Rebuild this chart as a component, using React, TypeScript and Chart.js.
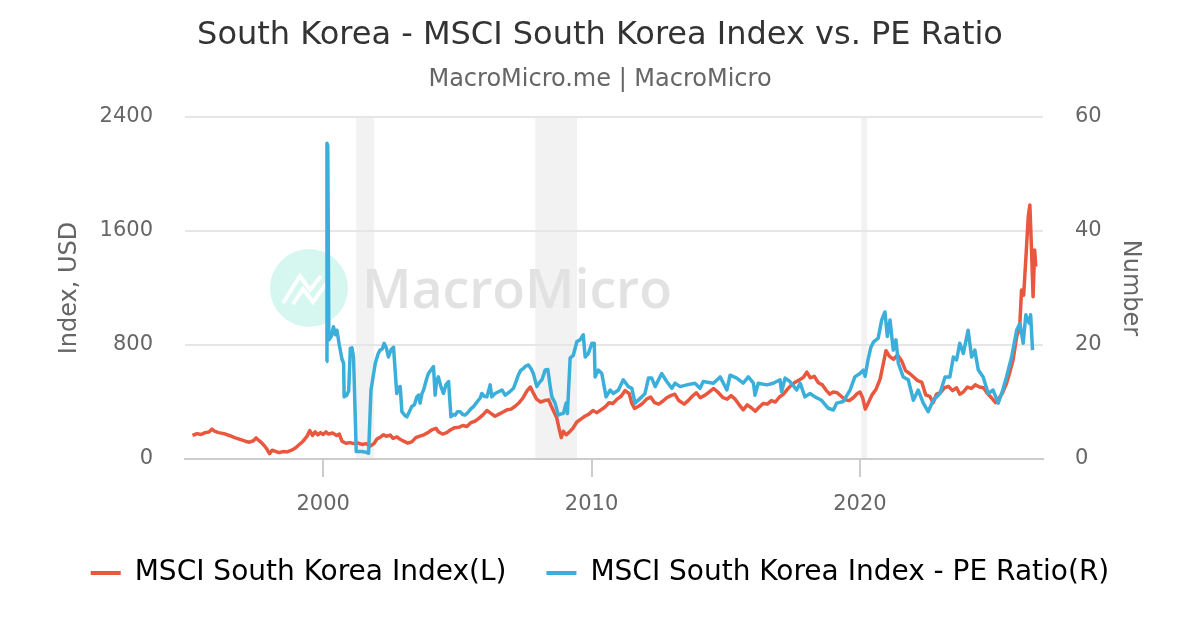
import React, { useEffect, useRef } from "react";
import { Chart, registerables } from "chart.js";

Chart.register(...registerables);

const titleText = "South Korea - MSCI South Korea Index vs. PE Ratio";
const subtitleText = "MacroMicro.me | MacroMicro";
const indexLabel = "MSCI South Korea Index(L)";
const peLabel = "MSCI South Korea Index - PE Ratio(R)";
const leftAxisTitle = "Index, USD";
const rightAxisTitle = "Number";
const watermarkText = "MacroMicro";

const xTickYears = [2000, 2010, 2020];
const leftTicks = [0, 800, 1600, 2400];
const rightTicks = [0, 20, 40, 60];

const recessionStarts = [2001.23, 2007.9, 2020.05];
const recessionEnds = [2001.9, 2009.46, 2020.27];

const indexYears = [
  1995.13, 1995.3, 1995.45, 1995.6, 1995.75, 1995.85, 1995.95, 1996.1, 1996.3, 1996.5,
  1996.7, 1996.9, 1997.1, 1997.25, 1997.4, 1997.5, 1997.6, 1997.7, 1997.8, 1997.9,
  1998.0, 1998.1, 1998.2, 1998.35, 1998.5, 1998.65, 1998.8, 1998.95, 1999.1, 1999.25,
  1999.4, 1999.5, 1999.6, 1999.7, 1999.8, 1999.9, 2000.0, 2000.1, 2000.2, 2000.35,
  2000.5, 2000.6, 2000.7, 2000.85, 2001.0, 2001.15, 2001.3, 2001.45, 2001.6, 2001.75,
  2001.9, 2002.0, 2002.1, 2002.25, 2002.35, 2002.5, 2002.6, 2002.75, 2002.85, 2003.0,
  2003.15, 2003.3, 2003.45, 2003.6, 2003.75, 2003.9, 2004.05, 2004.2, 2004.3, 2004.45,
  2004.6, 2004.75, 2004.9, 2005.05, 2005.2, 2005.35, 2005.5, 2005.65, 2005.8, 2005.95,
  2006.1, 2006.25, 2006.4, 2006.55, 2006.7, 2006.85, 2007.0, 2007.15, 2007.3, 2007.45,
  2007.6, 2007.72, 2007.85, 2007.95, 2008.1, 2008.25, 2008.4, 2008.5, 2008.6, 2008.7,
  2008.8, 2008.87, 2008.95, 2009.05, 2009.15, 2009.3, 2009.45, 2009.6, 2009.75, 2009.9,
  2010.05, 2010.2, 2010.35, 2010.5, 2010.65, 2010.8, 2010.95, 2011.1, 2011.25, 2011.4,
  2011.5, 2011.6, 2011.75, 2011.9, 2012.05, 2012.2, 2012.35, 2012.5, 2012.65, 2012.8,
  2012.95, 2013.1, 2013.25, 2013.45, 2013.6, 2013.75, 2013.9, 2014.05, 2014.2, 2014.35,
  2014.55, 2014.7, 2014.9, 2015.05, 2015.2, 2015.35, 2015.5, 2015.65, 2015.8, 2015.95,
  2016.1, 2016.25, 2016.4, 2016.55, 2016.7, 2016.85, 2017.0, 2017.15, 2017.3, 2017.45,
  2017.6, 2017.75, 2017.9, 2018.02, 2018.15, 2018.3, 2018.45, 2018.6, 2018.75, 2018.88,
  2019.0, 2019.15, 2019.3, 2019.45, 2019.6, 2019.75, 2019.9, 2020.0, 2020.1, 2020.2,
  2020.3, 2020.45, 2020.6, 2020.75, 2020.87, 2020.97, 2021.1, 2021.25, 2021.4, 2021.55,
  2021.7, 2021.85, 2022.0, 2022.15, 2022.3, 2022.45, 2022.6, 2022.73, 2022.85, 2023.0,
  2023.15, 2023.3, 2023.45, 2023.6, 2023.72, 2023.85, 2024.0, 2024.15, 2024.3, 2024.45,
  2024.6, 2024.75, 2024.9, 2025.05, 2025.15, 2025.3, 2025.46, 2025.6, 2025.71, 2025.84,
  2025.95, 2026.02, 2026.1, 2026.2, 2026.27, 2026.33, 2026.39, 2026.45, 2026.51, 2026.55,
];

const indexValues = [
  165, 178, 172, 185, 190, 210, 195, 185, 178, 165,
  150, 138, 125, 118, 128, 148, 130, 115, 95, 70,
  38, 62, 55, 45, 52, 50, 60, 75, 100, 125,
  160, 200, 165, 190, 170, 185, 172, 190, 175, 182,
  165, 175, 125, 110, 115, 108, 112, 102, 108, 90,
  110, 140, 150, 170, 160, 168, 145, 155, 140, 125,
  112, 120, 150, 160, 170, 185, 205, 215, 190, 175,
  185, 205, 220, 222, 235, 228, 255, 265, 285, 310,
  340, 320, 300, 315, 330, 345, 350, 370, 395, 430,
  480, 505, 455, 420, 400, 410, 415, 370, 330, 290,
  205, 150, 195, 170, 185, 215, 260, 280, 300, 315,
  340, 325, 345, 365, 395, 390, 420, 440, 480, 460,
  390, 355, 370, 390, 420, 435, 395, 385, 405, 430,
  445, 455, 410, 385, 410, 440, 465, 430, 445, 465,
  495, 470, 430, 420, 445, 420, 380, 345, 380, 360,
  335, 365, 390, 385, 410, 400, 435, 455, 490, 520,
  540, 555, 575, 610, 570, 580, 535, 520, 480, 455,
  470, 465, 440, 415, 410, 430, 460, 470, 430, 350,
  390, 450, 490, 560, 670, 760, 720, 700, 730, 690,
  620, 600, 575, 550, 540, 450, 440, 395, 455, 465,
  500, 510, 480, 500, 455, 470, 505, 495, 520, 505,
  500, 460, 430, 395, 420, 460, 530, 620, 700, 860,
  920, 1186, 1150, 1467, 1700, 1783, 1480, 1139, 1467, 1350,
];

const peYears = [
  2000.11, 2000.14, 2000.17, 2000.21, 2000.3, 2000.38, 2000.45, 2000.51, 2000.6, 2000.7,
  2000.76, 2000.78, 2000.88, 2000.95, 2001.01, 2001.07, 2001.13, 2001.23, 2001.44, 2001.6,
  2001.69, 2001.78, 2001.94, 2002.05, 2002.12, 2002.2, 2002.27, 2002.35, 2002.43, 2002.53,
  2002.62, 2002.74, 2002.8, 2002.87, 2002.93, 2003.05, 2003.12, 2003.2, 2003.3, 2003.4,
  2003.48, 2003.55, 2003.61, 2003.68, 2003.74, 2003.85, 2003.92, 2004.0, 2004.11, 2004.17,
  2004.22, 2004.29, 2004.38, 2004.48, 2004.57, 2004.67, 2004.76, 2004.85, 2004.92, 2005.0,
  2005.1, 2005.2, 2005.29, 2005.4, 2005.5, 2005.6, 2005.7, 2005.78, 2005.85, 2005.91,
  2006.0, 2006.1, 2006.22, 2006.28, 2006.4, 2006.53, 2006.66, 2006.78, 2006.95, 2007.09,
  2007.2, 2007.27, 2007.35, 2007.46, 2007.55, 2007.65, 2007.75, 2007.83, 2007.96, 2008.05,
  2008.15, 2008.27, 2008.37, 2008.45, 2008.52, 2008.64, 2008.76, 2008.85, 2008.95, 2009.05,
  2009.1, 2009.2, 2009.32, 2009.45, 2009.57, 2009.69, 2009.76, 2009.88, 2010.01, 2010.1,
  2010.13, 2010.25, 2010.38, 2010.54, 2010.69, 2010.81, 2011.0, 2011.18, 2011.37, 2011.5,
  2011.62, 2011.87, 2011.99, 2012.12, 2012.24, 2012.37, 2012.61, 2012.8, 2012.99, 2013.11,
  2013.3, 2013.55, 2013.85, 2014.04, 2014.16, 2014.54, 2014.79, 2015.04, 2015.16, 2015.41,
  2015.65, 2015.84, 2016.03, 2016.09, 2016.21, 2016.53, 2016.77, 2017.02, 2017.08, 2017.21,
  2017.39, 2017.64, 2017.77, 2017.95, 2018.14, 2018.32, 2018.57, 2018.82, 2019.01, 2019.13,
  2019.38, 2019.63, 2019.81, 2020.0, 2020.12, 2020.19, 2020.3, 2020.4, 2020.5, 2020.68,
  2020.81, 2020.93, 2021.02, 2021.12, 2021.24, 2021.34, 2021.43, 2021.61, 2021.8, 2021.99,
  2022.17, 2022.36, 2022.54, 2022.73, 2022.98, 2023.17, 2023.35, 2023.48, 2023.6, 2023.72,
  2023.85, 2024.03, 2024.16, 2024.28, 2024.41, 2024.59, 2024.78, 2024.96, 2025.15, 2025.28,
  2025.46, 2025.65, 2025.84, 2025.96, 2026.08, 2026.18, 2026.31, 2026.36, 2026.43,
];

const peValues = [
  17.1, 55.4, 55.0, 20.9, 21.5, 23.2, 21.8, 22.6, 20.0, 17.5,
  16.8, 10.9, 11.2, 12.0, 19.4, 19.5, 17.9, 1.3, 1.3, 1.2,
  1.0, 12.1, 16.8, 18.5, 19.1, 19.3, 20.3, 19.5, 17.9, 19.2,
  19.6, 11.5, 12.5, 12.7, 8.3, 7.6, 7.4, 8.2, 9.2, 9.5,
  10.8, 11.2, 9.8, 11.5, 12.1, 14.0, 15.0, 15.5, 16.2, 11.2,
  13.5, 14.4, 12.8, 11.5, 13.0, 13.6, 7.4, 7.8, 7.7, 8.3,
  8.3, 7.8, 7.7, 8.2, 8.8, 9.2, 9.8, 10.3, 10.7, 11.5,
  11.0, 10.9, 13.0, 10.9, 11.5, 11.8, 12.1, 11.2, 11.8, 12.4,
  13.8, 14.7, 15.5, 15.9, 16.3, 16.5, 15.8, 15.0, 12.7, 13.4,
  13.9, 15.6, 15.7, 13.0, 10.9, 9.8, 7.7, 7.9, 8.0, 9.8,
  8.0, 17.7, 18.2, 20.6, 20.9, 21.8, 17.9, 18.5, 20.3, 20.3,
  14.4, 15.6, 15.0, 10.9, 12.1, 11.5, 12.1, 13.9, 12.7, 12.4,
  9.8, 10.9, 11.5, 14.2, 14.2, 12.7, 15.0, 13.6, 12.4, 13.3,
  12.7, 13.0, 13.3, 12.4, 13.6, 13.3, 14.4, 12.1, 14.7, 14.2,
  13.3, 14.4, 13.3, 11.2, 13.3, 13.0, 13.3, 13.9, 11.8, 14.2,
  13.6, 12.1, 13.3, 10.9, 11.5, 10.9, 10.3, 8.9, 8.6, 9.8,
  10.1, 12.1, 14.4, 15.0, 15.6, 14.5, 17.4, 19.5, 20.5, 21.2,
  24.4, 25.8, 21.5, 24.4, 19.1, 20.9, 16.8, 14.4, 13.9, 10.3,
  12.1, 9.8, 8.3, 10.3, 11.5, 14.4, 14.4, 17.9, 17.4, 20.3,
  18.5, 22.6, 17.9, 19.1, 15.6, 14.4, 11.5, 12.1, 9.8, 11.5,
  14.4, 17.9, 22.6, 23.8, 20.3, 25.3, 23.8, 25.3, 19.1,
];

const RED = "#E9573F";
const BLUE = "#3BAFDA";
const FONT = '"DejaVu Sans", sans-serif';

const backdropPlugin = {
  id: "backdrop",
  beforeDraw(chart: any) {
    const { ctx, chartArea, scales } = chart;
    const xs = scales.x;
    ctx.save();
    ctx.fillStyle = "#ffffff";
    ctx.fillRect(0, 0, chart.width, chart.height);
    // recession bands
    ctx.fillStyle = "#f2f2f2";
    recessionStarts.forEach((s, i) => {
      const x0 = xs.getPixelForValue(s);
      const x1 = xs.getPixelForValue(recessionEnds[i]);
      ctx.fillRect(x0, chartArea.top, x1 - x0, chartArea.bottom - chartArea.top);
    });
    // watermark logo
    const cx = chartArea.left + 124;
    const cy = chartArea.top + 171;
    ctx.fillStyle = "#d6f7ef";
    ctx.beginPath();
    ctx.arc(cx, cy, 39, 0, Math.PI * 2);
    ctx.fill();
    ctx.strokeStyle = "#ffffff";
    ctx.lineWidth = 4;
    ctx.lineJoin = "miter";
    ctx.beginPath();
    ctx.moveTo(cx - 26, cy + 15);
    ctx.lineTo(cx - 9, cy - 12);
    ctx.lineTo(cx + 1, cy + 2);
    ctx.lineTo(cx + 12, cy - 12);
    ctx.stroke();
    ctx.beginPath();
    ctx.moveTo(cx - 16, cy + 16);
    ctx.lineTo(cx - 6, cy + 1);
    ctx.lineTo(cx + 4, cy + 14);
    ctx.lineTo(cx + 17, cy - 4);
    ctx.stroke();
    // watermark text
    ctx.fillStyle = "#e2e2e2";
    ctx.textBaseline = "alphabetic";
    ctx.textAlign = "left";
    ctx.font = '600 54px "Open Sans", sans-serif';
    const w = ctx.measureText(watermarkText).width;
    const size = (54 * 310) / w;
    ctx.font = `600 ${size}px "Open Sans", sans-serif`;
    ctx.fillText(watermarkText, chartArea.left + 177, chartArea.top + 191);
    ctx.restore();
  },
};

export default function App() {
  const canvasRef = useRef<HTMLCanvasElement | null>(null);

  useEffect(() => {
    document.body.style.margin = "0";
    const canvas = canvasRef.current;
    if (!canvas) return;
    Chart.defaults.font.family = FONT;

    const indexPoints = indexYears.map((x, i) => ({ x, y: indexValues[i] }));
    const pePoints = peYears.map((x, i) => ({ x, y: peValues[i] }));

    const chart = new Chart(canvas, {
      type: "line",
      data: {
        datasets: [
          {
            label: indexLabel,
            data: indexPoints,
            borderColor: RED,
            backgroundColor: RED,
            borderWidth: 3.5,
            pointRadius: 0,
            tension: 0,
            borderJoinStyle: "round",
            yAxisID: "y",
            order: 2,
          },
          {
            label: peLabel,
            data: pePoints,
            borderColor: BLUE,
            backgroundColor: BLUE,
            borderWidth: 3.5,
            pointRadius: 0,
            tension: 0,
            borderJoinStyle: "round",
            yAxisID: "y1",
            order: 1,
          },
        ],
      },
      options: {
        responsive: false,
        animation: false,
        events: [],
        layout: { padding: { left: 0, right: 0, top: 0, bottom: 33 } },
        scales: {
          x: {
            type: "linear",
            position: "bottom",
            min: 1994.85,
            max: 2026.82,
            afterBuildTicks: (s: any) => {
              s.ticks = xTickYears.map((v) => ({ value: v }));
            },
            afterFit: (s: any) => {
              s.height = 60;
            },
            grid: {
              display: true,
              drawOnChartArea: false,
              drawTicks: true,
              tickLength: 18,
              color: "#cccccc",
              lineWidth: 2,
            },
            border: { display: true, color: "#cccccc", width: 2 },
            ticks: {
              padding: 15,
              color: "#666666",
              font: { size: 21 },
              maxRotation: 0,
              callback: (v: any) => String(v),
            },
          },
          y: {
            type: "linear",
            position: "left",
            min: 0,
            max: 2400,
            afterBuildTicks: (s: any) => {
              s.ticks = leftTicks.map((v) => ({ value: v }));
            },
            afterFit: (s: any) => {
              s.width = 185;
            },
            grid: {
              drawTicks: false,
              color: (c: any) => (c.tick && c.tick.value === 0 ? "#cccccc" : "#e6e6e6"),
              lineWidth: 2,
            },
            border: { display: false },
            ticks: {
              padding: 32,
              color: "#666666",
              font: { size: 21 },
              callback: (v: any) => String(v),
            },
            title: {
              display: true,
              text: leftAxisTitle,
              color: "#666666",
              font: { size: 24 },
              padding: { top: 55.6, bottom: 0 },
            },
          },
          y1: {
            type: "linear",
            position: "right",
            min: 0,
            max: 60,
            afterBuildTicks: (s: any) => {
              s.ticks = rightTicks.map((v) => ({ value: v }));
            },
            afterFit: (s: any) => {
              s.width = 157;
            },
            grid: { drawOnChartArea: false, drawTicks: false },
            border: { display: false },
            ticks: {
              padding: 32,
              color: "#666666",
              font: { size: 21 },
              callback: (v: any) => String(v),
            },
            title: {
              display: true,
              text: rightAxisTitle,
              color: "#666666",
              font: { size: 24 },
              padding: { top: 55.6, bottom: 0 },
            },
          },
        },
        plugins: {
          title: {
            display: true,
            text: titleText,
            color: "#333333",
            font: { size: 32, weight: "normal" },
            padding: { top: 16, bottom: 10 },
          },
          subtitle: {
            display: true,
            text: subtitleText,
            color: "#666666",
            font: { size: 24, weight: "normal" },
            padding: { top: 1, bottom: 22.8 },
          },
          legend: {
            display: true,
            position: "bottom",
            labels: {
              color: "#000000",
              font: { size: 28 },
              boxWidth: 30,
              boxHeight: 4,
              padding: 40,
              sort: (a: any, b: any) => a.datasetIndex - b.datasetIndex,
              generateLabels: (c: any) => {
                const items = (Chart.defaults.plugins.legend.labels as any).generateLabels(c);
                return items.map((it: any) => ({ ...it, lineWidth: 0, fillStyle: it.strokeStyle }));
              },
            },
          },
          tooltip: { enabled: false },
        },
      } as any,
      plugins: [backdropPlugin],
    });

    return () => {
      chart.destroy();
    };
  }, []);

  return (
    <div style={{ width: 1200, height: 630, position: "relative", background: "#fff" }}>
      <canvas ref={canvasRef} width={1200} height={630} style={{ display: "block" }} />
    </div>
  );
}
